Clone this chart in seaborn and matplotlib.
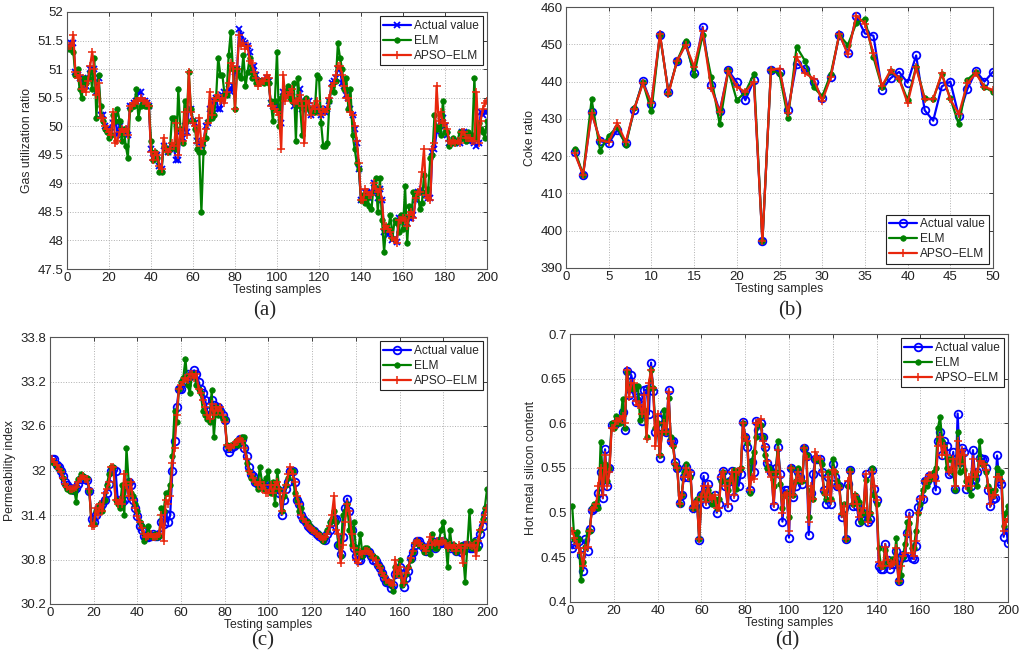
import numpy as np
import pandas as pd
import matplotlib
matplotlib.use("Agg")
import matplotlib.pyplot as plt
import seaborn as sns
from matplotlib.ticker import FuncFormatter

# ---------------- (a) gas utilization ratio ----------------
gas_actual = [
    51.40, 51.45, 51.45, 50.95, 50.90, 50.85, 50.70, 50.75, 50.70, 50.85,
    51.00, 50.95, 51.00, 50.60, 50.85, 50.20, 50.20, 50.00, 49.95, 49.95,
    49.90, 50.05, 50.15, 49.85, 50.00, 49.90, 49.95, 49.90, 49.85, 50.35,
    50.35, 50.40, 50.45, 50.60, 50.60, 50.45, 50.45, 50.40, 50.35, 49.60,
    49.45, 49.50, 49.50, 49.30, 49.25, 49.65, 49.60, 49.55, 49.60, 49.65,
    49.60, 49.40, 49.40, 49.90, 49.80, 50.00, 49.90, 50.30, 50.30, 50.10,
    50.05, 49.75, 49.70, 49.65, 49.70, 50.00, 50.05, 50.30, 50.40, 50.45,
    50.50, 50.30, 50.30, 50.55, 50.60, 50.55, 50.65, 50.60, 50.70, 50.95,
    51.00, 51.70, 51.60, 51.50, 51.45, 51.40, 51.30, 50.95, 51.05, 50.90,
    50.75, 50.80, 50.80, 50.80, 50.85, 50.80, 50.40, 50.35, 50.35, 50.40,
    50.30, 50.05, 50.60, 50.60, 50.55, 50.55, 50.60, 50.35, 50.45, 50.45,
    50.65, 50.30, 50.35, 50.45, 50.45, 50.20, 50.30, 50.30, 50.25, 50.30,
    50.20, 50.25, 50.25, 50.30, 50.45, 50.75, 50.80, 50.85, 51.00, 51.00,
    50.75, 50.70, 50.55, 50.50, 50.30, 50.20, 49.95, 49.70, 49.25, 48.70,
    48.70, 48.85, 48.85, 48.75, 48.85, 49.00, 48.85, 48.75, 48.90, 48.70,
    48.15, 48.20, 48.10, 48.15, 48.00, 48.05, 47.98, 48.40, 48.40, 48.35,
    48.35, 48.30, 48.40, 48.40, 48.45, 48.70, 48.85, 48.85, 48.90, 48.85,
    48.80, 48.75, 48.75, 49.55, 49.60, 49.90, 49.95, 50.10, 50.15, 50.00,
    49.85, 49.70, 49.70, 49.70, 49.70, 49.75, 49.70, 49.90, 49.90, 49.85,
    49.75, 49.75, 49.80, 49.70, 49.65, 49.70, 50.25, 50.20, 50.25, 50.25,
]
gas_elm = [
    51.35, 51.35, 51.30, 50.90, 51.00, 50.65, 50.50, 50.85, 50.75, 50.85,
    50.95, 50.65, 51.20, 50.15, 50.90, 50.35, 50.10, 49.95, 49.90, 49.80,
    49.85, 50.20, 50.10, 50.30, 50.10, 49.75, 49.95, 49.65, 49.45, 50.30,
    50.35, 50.35, 50.65, 50.15, 50.35, 50.40, 50.35, 50.35, 50.35, 49.75,
    49.40, 49.55, 49.45, 49.20, 49.20, 49.65, 49.60, 49.55, 49.60, 50.15,
    50.15, 49.60, 50.65, 49.95, 49.70, 50.45, 50.10, 50.95, 50.30, 50.10,
    49.95, 49.60, 49.55, 48.50, 49.55, 49.80, 50.10, 50.30, 50.15, 50.20,
    50.50, 51.20, 50.90, 50.90, 50.55, 50.55, 51.25, 51.65, 51.00, 50.30,
    51.00, 50.90, 50.85, 51.25, 50.70, 50.95, 51.20, 50.85, 50.90, 50.75,
    50.75, 50.80, 50.80, 50.75, 50.85, 50.75, 50.45, 50.10, 50.45, 51.30,
    50.00, 50.50, 50.55, 50.60, 50.70, 50.50, 50.45, 50.75, 49.75, 50.85,
    50.35, 49.85, 50.45, 50.50, 50.30, 50.25, 50.30, 50.25, 50.90, 50.85,
    50.05, 49.65, 49.65, 49.70, 50.45, 50.70, 50.60, 50.80, 51.45, 51.20,
    51.00, 50.65, 50.85, 50.30, 50.65, 49.85, 49.60, 49.35, 49.25, 48.70,
    48.80, 48.65, 48.75, 48.60, 48.55, 48.95, 49.10, 48.50, 49.10, 48.35,
    47.80, 48.25, 48.20, 48.45, 48.05, 48.35, 48.30, 48.15, 48.45, 48.20,
    48.95, 47.95, 48.60, 48.45, 48.85, 48.80, 48.85, 48.55, 48.65, 49.15,
    48.85, 48.90, 49.45, 49.50, 50.20, 49.95, 50.00, 49.85, 50.45, 49.90,
    49.90, 49.65, 49.70, 49.80, 49.70, 49.75, 49.90, 49.80, 49.85, 49.75,
    49.90, 49.80, 49.85, 50.85, 49.80, 50.05, 49.95, 49.90, 49.80, 50.10,
]
gas_apso = [
    51.40, 51.40, 51.60, 50.95, 50.85, 50.90, 50.65, 50.65, 50.60, 50.80,
    51.05, 51.30, 51.00, 50.55, 50.75, 50.15, 50.15, 50.00, 49.95, 49.90,
    49.85, 50.25, 49.70, 49.75, 49.90, 49.95, 49.90, 49.95, 49.85, 50.35,
    50.35, 50.40, 50.45, 50.45, 50.50, 50.45, 50.45, 50.40, 50.35, 49.55,
    49.40, 49.55, 49.50, 49.30, 49.25, 49.80, 49.60, 49.55, 49.60, 49.70,
    49.65, 50.05, 49.50, 49.95, 49.75, 50.25, 49.85, 50.95, 50.25, 50.05,
    50.00, 49.70, 50.15, 49.65, 49.75, 49.95, 50.05, 50.60, 50.20, 50.45,
    50.50, 50.55, 50.45, 50.50, 50.40, 50.60, 50.75, 51.10, 51.05, 50.30,
    51.00, 51.60, 51.40, 51.45, 51.35, 51.40, 51.15, 51.10, 50.95, 50.85,
    50.70, 50.75, 50.80, 50.80, 50.90, 50.85, 50.35, 50.35, 50.30, 50.25,
    50.20, 49.60, 50.90, 50.45, 50.55, 50.60, 50.65, 50.40, 50.45, 50.45,
    50.55, 50.35, 49.70, 50.45, 50.40, 50.20, 50.35, 50.30, 50.45, 50.30,
    50.20, 50.30, 50.25, 50.30, 50.50, 50.70, 50.75, 50.90, 51.05, 51.05,
    50.90, 50.70, 50.50, 50.50, 50.25, 50.20, 50.00, 49.75, 49.35, 48.70,
    48.70, 48.90, 48.85, 48.80, 48.80, 49.00, 48.90, 48.85, 48.90, 48.70,
    48.20, 48.25, 48.20, 48.15, 48.05, 48.00, 47.95, 48.35, 48.35, 48.40,
    48.35, 48.25, 48.45, 48.50, 48.40, 48.75, 48.85, 48.85, 49.20, 49.60,
    48.80, 48.75, 48.70, 49.60, 49.70, 50.70, 50.10, 50.25, 50.05, 50.05,
    49.95, 49.75, 49.70, 49.75, 49.70, 49.75, 49.70, 49.90, 49.90, 49.80,
    49.80, 49.80, 49.75, 49.75, 50.60, 49.70, 50.10, 50.30, 50.40, 50.45,
]

# ---------------- (b) coke ratio ----------------
coke_actual = [
    421.2, 415.0, 431.8, 424.0, 423.5, 427.0, 423.5, 432.5, 440.2, 434.0,
    452.5, 437.2, 445.5, 450.0, 442.3, 454.7, 439.0, 432.0, 443.0, 439.8,
    435.0, 440.3, 397.2, 443.2, 442.7, 432.5, 444.8, 443.5, 440.0, 435.5,
    441.3, 452.6, 447.7, 457.6, 452.9, 452.3, 437.8, 440.9, 442.6, 439.7,
    447.0, 432.3, 429.5, 438.7, 440.0, 430.7, 438.0, 442.8, 440.0, 442.6,
]
coke_elm = [
    421.8, 415.0, 435.2, 421.5, 425.5, 427.8, 423.0, 432.8, 439.8, 432.0,
    452.5, 437.0, 445.5, 450.8, 441.7, 452.5, 441.3, 428.5, 443.0, 435.0,
    437.2, 442.0, 397.2, 443.2, 442.0, 430.2, 449.3, 445.5, 438.5, 436.0,
    442.0, 452.5, 449.8, 455.7, 456.9, 446.5, 438.5, 442.8, 440.8, 435.1,
    444.0, 435.5, 435.3, 442.0, 435.5, 428.5, 440.5, 442.5, 438.5, 437.2,
]
coke_apso = [
    420.8, 415.0, 431.5, 424.2, 423.8, 428.8, 423.8, 432.7, 439.5, 434.3,
    452.8, 436.8, 445.5, 449.8, 444.0, 453.5, 438.3, 431.8, 442.8, 438.6,
    437.2, 440.0, 397.2, 443.2, 443.5, 431.5, 446.6, 442.2, 440.8, 434.8,
    441.2, 452.8, 447.3, 457.7, 455.5, 447.6, 438.8, 443.0, 440.8, 434.2,
    443.8, 435.2, 435.3, 442.2, 435.2, 431.3, 439.5, 442.2, 438.5, 437.8,
]

# ---------------- (c) permeability index ----------------
perm_actual = [
    32.15, 32.15, 32.08, 32.05, 32.00, 31.93, 31.85, 31.80, 31.76, 31.75,
    31.74, 31.76, 31.82, 31.88, 31.90, 31.88, 31.87, 31.72, 31.35, 31.30,
    31.40, 31.48, 31.50, 31.55, 31.60, 31.70, 31.82, 32.00, 32.02, 32.00,
    31.60, 31.60, 31.58, 31.60, 31.80, 31.85, 31.80, 31.60, 31.50, 31.38,
    31.25, 31.20, 31.12, 31.10, 31.10, 31.12, 31.15, 31.12, 31.12, 31.15,
    31.30, 31.28, 31.42, 31.30, 31.40, 32.00, 32.40, 32.85, 33.10, 33.10,
    33.20, 33.22, 33.30, 33.28, 33.30, 33.35, 33.30, 33.20, 33.10, 33.05,
    32.95, 32.80, 32.75, 32.95, 32.88, 32.82, 32.85, 32.80, 32.75, 32.68,
    32.30, 32.25, 32.30, 32.33, 32.36, 32.38, 32.42, 32.42, 32.30, 32.20,
    32.05, 31.95, 31.92, 31.85, 31.82, 31.80, 31.82, 31.78, 31.80, 31.78,
    31.75, 31.80, 31.75, 31.75, 31.70, 31.40, 31.60, 31.75, 31.85, 32.00,
    32.00, 31.85, 31.60, 31.55, 31.40, 31.35, 31.30, 31.25, 31.22, 31.20,
    31.18, 31.15, 31.12, 31.10, 31.08, 31.06, 31.15, 31.20, 31.30, 31.35,
    31.35, 31.00, 30.87, 31.10, 31.50, 31.62, 31.45, 31.20, 30.95, 30.85,
    30.80, 30.80, 30.88, 30.92, 30.92, 30.90, 30.85, 30.80, 30.78, 30.72,
    30.68, 30.62, 30.55, 30.50, 30.48, 30.42, 30.45, 30.60, 30.65, 30.70,
    30.60, 30.43, 30.55, 30.65, 30.82, 30.90, 31.00, 31.05, 31.05, 31.00,
    30.95, 30.92, 30.95, 31.00, 31.05, 30.95, 31.00, 31.05, 31.02, 31.05,
    31.02, 31.00, 30.95, 30.98, 30.95, 30.92, 30.95, 30.90, 30.98, 31.00,
    31.00, 30.95, 30.95, 31.00, 31.05, 31.00, 31.15, 31.25, 31.42, 31.50,
]
perm_elm = [
    32.12, 32.10, 32.05, 32.02, 32.00, 31.90, 31.80, 31.75, 31.72, 31.73,
    31.75, 31.58, 31.88, 31.95, 31.92, 31.90, 31.90, 31.72, 31.28, 31.28,
    31.45, 31.50, 31.55, 31.45, 31.60, 31.80, 31.95, 32.05, 32.05, 31.60,
    31.55, 31.50, 31.80, 31.40, 32.30, 31.85, 31.70, 31.65, 31.55, 31.45,
    31.30, 31.25, 31.05, 31.10, 31.25, 31.12, 31.10, 31.15, 31.10, 31.12,
    31.50, 31.45, 31.70, 31.70, 31.80, 32.20, 32.80, 32.65, 33.10, 33.20,
    33.25, 33.50, 33.15, 33.05, 33.30, 33.30, 33.15, 33.10, 33.05, 32.80,
    32.75, 32.70, 32.65, 33.08, 32.45, 32.85, 32.75, 32.80, 32.70, 32.70,
    32.35, 32.30, 32.35, 32.35, 32.40, 32.35, 32.42, 32.45, 32.45, 32.10,
    32.00, 31.90, 31.90, 31.85, 31.75, 32.05, 31.85, 31.75, 31.90, 32.00,
    31.70, 31.85, 31.55, 32.00, 31.75, 31.45, 31.65, 31.80, 31.90, 32.00,
    32.00, 31.70, 31.60, 31.45, 31.50, 31.35, 31.30, 31.30, 31.25, 31.20,
    31.20, 31.15, 31.15, 31.10, 31.05, 31.10, 31.20, 31.30, 31.35, 31.45,
    31.30, 31.00, 30.85, 31.40, 31.45, 31.55, 31.20, 31.00, 31.30, 30.95,
    30.90, 31.15, 30.85, 30.95, 30.95, 30.90, 30.85, 30.85, 30.82, 30.72,
    30.70, 30.62, 30.58, 30.50, 30.50, 30.45, 30.38, 30.70, 30.60, 30.80,
    30.45, 30.50, 30.60, 30.70, 30.80, 30.90, 31.02, 31.05, 31.00, 31.00,
    30.90, 30.95, 30.95, 30.88, 31.15, 30.95, 30.95, 31.05, 31.20, 31.30,
    31.05, 30.70, 31.20, 30.95, 31.00, 30.90, 30.95, 31.00, 30.90, 30.50,
    30.98, 31.45, 30.95, 31.05, 31.00, 30.95, 31.20, 31.35, 31.50, 31.75,
]
perm_apso = [
    32.15, 32.12, 32.08, 32.02, 31.98, 31.90, 31.82, 31.78, 31.75, 31.75,
    31.76, 31.78, 31.85, 31.90, 31.92, 31.88, 31.88, 31.75, 31.25, 31.25,
    31.50, 31.40, 31.55, 31.45, 31.70, 31.75, 31.85, 32.05, 32.05, 31.60,
    31.55, 31.60, 31.55, 31.95, 31.80, 31.65, 31.85, 31.60, 31.50, 31.38,
    31.30, 31.22, 31.15, 31.10, 31.12, 31.15, 31.10, 31.10, 31.12, 31.15,
    31.40, 31.05, 31.60, 31.55, 31.65, 32.10, 32.30, 32.75, 33.10, 33.15,
    33.20, 33.25, 33.22, 33.30, 33.30, 33.25, 33.30, 33.10, 33.05, 32.95,
    32.85, 32.75, 32.70, 32.90, 32.75, 32.85, 32.80, 32.85, 32.75, 32.65,
    32.35, 32.30, 32.32, 32.35, 32.38, 32.40, 32.42, 32.40, 32.30, 32.15,
    32.00, 31.95, 31.90, 31.85, 31.80, 31.85, 31.75, 31.80, 31.70, 31.70,
    31.80, 31.70, 31.80, 31.85, 31.75, 31.45, 31.70, 31.80, 31.95, 32.05,
    31.95, 31.85, 31.65, 31.55, 31.40, 31.35, 31.30, 31.25, 31.22, 31.20,
    31.18, 31.15, 31.12, 31.10, 31.08, 31.10, 31.15, 31.25, 31.40, 31.65,
    31.20, 31.15, 30.75, 31.00, 31.30, 31.55, 31.45, 31.15, 30.95, 30.80,
    30.75, 30.90, 30.88, 30.92, 30.92, 30.90, 30.88, 30.82, 30.80, 30.72,
    30.68, 30.62, 30.58, 30.52, 30.50, 30.48, 30.45, 30.80, 30.60, 30.70,
    30.55, 30.48, 30.62, 30.68, 30.82, 30.92, 31.02, 31.05, 31.02, 30.98,
    30.95, 30.92, 31.00, 31.10, 31.00, 31.02, 31.05, 31.00, 31.05, 31.05,
    31.02, 30.95, 31.00, 30.95, 31.00, 30.92, 31.00, 30.95, 30.75, 31.00,
    31.00, 31.00, 30.98, 31.00, 30.85, 31.05, 31.20, 31.30, 31.40, 31.50,
]

# ---------------- (d) hot metal silicon content ----------------
si_actual = [
    0.460, 0.465, 0.470, 0.468, 0.453, 0.435, 0.470, 0.457, 0.482, 0.503,
    0.505, 0.507, 0.522, 0.545, 0.516, 0.571, 0.530, 0.550, 0.598, 0.598,
    0.600, 0.603, 0.605, 0.613, 0.593, 0.659, 0.632, 0.654, 0.640, 0.624,
    0.630, 0.628, 0.603, 0.637, 0.638, 0.610, 0.668, 0.636, 0.590, 0.605,
    0.561, 0.595, 0.612, 0.590, 0.637, 0.580, 0.580, 0.557, 0.550, 0.511,
    0.520, 0.540, 0.551, 0.540, 0.544, 0.505, 0.507, 0.512, 0.469, 0.520,
    0.541, 0.510, 0.532, 0.515, 0.512, 0.520, 0.500, 0.510, 0.540, 0.547,
    0.530, 0.506, 0.535, 0.547, 0.518, 0.545, 0.530, 0.543, 0.602, 0.585,
    0.573, 0.525, 0.557, 0.545, 0.603, 0.593, 0.600, 0.585, 0.573, 0.556,
    0.550, 0.545, 0.507, 0.550, 0.573, 0.543, 0.490, 0.525, 0.525, 0.472,
    0.550, 0.517, 0.530, 0.545, 0.540, 0.532, 0.572, 0.563, 0.475, 0.522,
    0.543, 0.560, 0.560, 0.560, 0.545, 0.525, 0.510, 0.540, 0.510, 0.555,
    0.540, 0.530, 0.530, 0.495, 0.505, 0.470, 0.532, 0.548, 0.507, 0.517,
    0.507, 0.490, 0.495, 0.500, 0.543, 0.490, 0.493, 0.548, 0.527, 0.514,
    0.440, 0.437, 0.437, 0.465, 0.447, 0.437, 0.443, 0.443, 0.457, 0.423,
    0.449, 0.453, 0.450, 0.477, 0.500, 0.449, 0.448, 0.463, 0.506, 0.515,
    0.515, 0.535, 0.535, 0.541, 0.540, 0.540, 0.525, 0.580, 0.590, 0.565,
    0.580, 0.575, 0.543, 0.545, 0.568, 0.527, 0.611, 0.557, 0.572, 0.568,
    0.527, 0.535, 0.530, 0.570, 0.538, 0.546, 0.561, 0.560, 0.560, 0.550,
    0.525, 0.507, 0.515, 0.516, 0.564, 0.535, 0.532, 0.473, 0.486, 0.466,
]
si_elm = [
    0.507, 0.470, 0.478, 0.470, 0.425, 0.445, 0.462, 0.480, 0.480, 0.505,
    0.510, 0.510, 0.505, 0.579, 0.540, 0.555, 0.535, 0.550, 0.600, 0.595,
    0.608, 0.600, 0.600, 0.627, 0.595, 0.658, 0.640, 0.640, 0.638, 0.642,
    0.642, 0.604, 0.610, 0.615, 0.585, 0.640, 0.660, 0.640, 0.595, 0.600,
    0.565, 0.590, 0.615, 0.590, 0.628, 0.585, 0.575, 0.555, 0.550, 0.510,
    0.520, 0.545, 0.554, 0.545, 0.540, 0.505, 0.510, 0.515, 0.470, 0.520,
    0.520, 0.515, 0.525, 0.520, 0.510, 0.515, 0.505, 0.515, 0.535, 0.546,
    0.535, 0.525, 0.535, 0.540, 0.548, 0.527, 0.548, 0.550, 0.600, 0.585,
    0.578, 0.522, 0.558, 0.568, 0.585, 0.600, 0.598, 0.585, 0.565, 0.550,
    0.550, 0.545, 0.530, 0.545, 0.580, 0.532, 0.505, 0.520, 0.522, 0.495,
    0.550, 0.520, 0.535, 0.550, 0.535, 0.535, 0.572, 0.565, 0.495, 0.525,
    0.515, 0.560, 0.560, 0.558, 0.555, 0.522, 0.515, 0.545, 0.515, 0.560,
    0.545, 0.535, 0.530, 0.500, 0.510, 0.470, 0.530, 0.548, 0.510, 0.520,
    0.515, 0.512, 0.490, 0.500, 0.537, 0.493, 0.500, 0.550, 0.520, 0.510,
    0.460, 0.440, 0.440, 0.458, 0.445, 0.445, 0.448, 0.445, 0.472, 0.423,
    0.430, 0.450, 0.465, 0.490, 0.488, 0.460, 0.460, 0.480, 0.500, 0.510,
    0.525, 0.535, 0.530, 0.537, 0.540, 0.545, 0.550, 0.595, 0.607, 0.580,
    0.575, 0.550, 0.560, 0.560, 0.545, 0.525, 0.590, 0.545, 0.565, 0.548,
    0.535, 0.527, 0.520, 0.545, 0.540, 0.530, 0.580, 0.555, 0.555, 0.545,
    0.530, 0.525, 0.520, 0.525, 0.550, 0.545, 0.545, 0.485, 0.500, 0.507,
]
si_apso = [
    0.480, 0.472, 0.465, 0.460, 0.455, 0.440, 0.460, 0.462, 0.480, 0.503,
    0.505, 0.510, 0.530, 0.550, 0.520, 0.565, 0.530, 0.545, 0.595, 0.595,
    0.603, 0.603, 0.605, 0.608, 0.600, 0.660, 0.630, 0.645, 0.645, 0.625,
    0.620, 0.620, 0.610, 0.632, 0.583, 0.645, 0.660, 0.640, 0.575, 0.610,
    0.565, 0.590, 0.600, 0.590, 0.635, 0.580, 0.575, 0.555, 0.550, 0.510,
    0.520, 0.540, 0.550, 0.540, 0.545, 0.505, 0.510, 0.512, 0.470, 0.518,
    0.530, 0.512, 0.530, 0.518, 0.515, 0.520, 0.505, 0.505, 0.540, 0.546,
    0.530, 0.510, 0.535, 0.545, 0.520, 0.545, 0.545, 0.550, 0.600, 0.585,
    0.580, 0.525, 0.540, 0.538, 0.600, 0.600, 0.605, 0.580, 0.573, 0.558,
    0.545, 0.540, 0.510, 0.545, 0.570, 0.540, 0.500, 0.520, 0.522, 0.480,
    0.550, 0.520, 0.535, 0.545, 0.538, 0.535, 0.572, 0.560, 0.490, 0.530,
    0.515, 0.568, 0.562, 0.560, 0.545, 0.525, 0.520, 0.540, 0.513, 0.548,
    0.545, 0.530, 0.528, 0.498, 0.507, 0.470, 0.535, 0.545, 0.510, 0.520,
    0.510, 0.495, 0.500, 0.505, 0.543, 0.490, 0.500, 0.545, 0.530, 0.514,
    0.445, 0.440, 0.440, 0.462, 0.447, 0.440, 0.443, 0.445, 0.460, 0.423,
    0.440, 0.452, 0.455, 0.475, 0.495, 0.455, 0.452, 0.468, 0.500, 0.515,
    0.518, 0.535, 0.535, 0.542, 0.542, 0.540, 0.535, 0.575, 0.585, 0.565,
    0.575, 0.565, 0.545, 0.548, 0.560, 0.530, 0.580, 0.555, 0.570, 0.565,
    0.530, 0.540, 0.530, 0.560, 0.540, 0.545, 0.558, 0.555, 0.555, 0.548,
    0.528, 0.510, 0.520, 0.520, 0.540, 0.540, 0.535, 0.480, 0.490, 0.493,
]

series_names = ["Actual value", "ELM", "APSO\u2212ELM"]
panel_tags = ["(a)", "(b)", "(c)", "(d)"]
y_titles = ["Gas utilization ratio", "Coke ratio", "Permeability index",
            "Hot metal silicon content"]

sns.set_theme(style="white")
plt.rcParams["font.family"] = ["Liberation Sans", "DejaVu Sans"]

fig = plt.figure(figsize=(10.2, 6.58), dpi=100)

W, H = 1020.0, 658.0


def box(left, top, right, bottom):
    return [left / W, 1 - bottom / H, (right - left) / W, (bottom - top) / H]


panels = [
    dict(rect=box(67, 12, 487, 269), data=(gas_actual, gas_elm, gas_apso),
         xlim=(0, 200), xticks=np.arange(0, 201, 20),
         ylim=(47.5, 52), yticks=np.arange(47.5, 52.01, 0.5),
         actual_marker="x", legend_loc="upper right", tag_xy=(265, 311)),
    dict(rect=box(566, 7, 993, 268), data=(coke_actual, coke_elm, coke_apso),
         xlim=(0, 50), xticks=np.arange(0, 51, 5),
         ylim=(390, 460), yticks=np.arange(390, 461, 10),
         actual_marker="o", legend_loc="lower right", tag_xy=(790, 311)),
    dict(rect=box(50, 337, 487, 604), data=(perm_actual, perm_elm, perm_apso),
         xlim=(0, 200), xticks=np.arange(0, 201, 20),
         ylim=(30.2, 33.8), yticks=np.arange(30.2, 33.81, 0.6),
         actual_marker="o", legend_loc="upper right", tag_xy=(263, 641)),
    dict(rect=box(570, 334, 1008, 602), data=(si_actual, si_elm, si_apso),
         xlim=(0, 200), xticks=np.arange(0, 201, 20),
         ylim=(0.4, 0.7), yticks=np.arange(0.4, 0.701, 0.05),
         actual_marker="o", legend_loc="upper right", tag_xy=(787, 641)),
]

fmt = FuncFormatter(lambda v, _: f"{round(v, 4):g}")

for p, ytitle, tag in zip(panels, y_titles, panel_tags):
    ax = fig.add_axes(p["rect"])
    actual, elm, apso = p["data"]
    samples = np.arange(1, len(actual) + 1)
    df = pd.DataFrame({"sample": samples, "actual": actual,
                       "elm": elm, "apso": apso})

    if p["actual_marker"] == "x":
        sns.lineplot(data=df, x="sample", y="actual", ax=ax, color="#0000ff",
                     lw=1.6, marker="x", markersize=5, mew=1.3,
                     markeredgecolor="#0000ff", sort=False, estimator=None,
                     label=series_names[0])
    else:
        sns.lineplot(data=df, x="sample", y="actual", ax=ax, color="#0000ff",
                     lw=1.6, marker="o", markersize=5.5, mew=1.3,
                     markerfacecolor="none", markeredgecolor="#0000ff",
                     sort=False, estimator=None, label=series_names[0])
    sns.lineplot(data=df, x="sample", y="elm", ax=ax, color="#008000",
                 lw=1.6, marker="o", markersize=4, mew=0.5,
                 markeredgecolor="#008000", sort=False, estimator=None,
                 label=series_names[1])
    sns.lineplot(data=df, x="sample", y="apso", ax=ax, color="#e8260c",
                 lw=1.6, marker="+", markersize=6, mew=1.1,
                 markeredgecolor="#e8260c", sort=False, estimator=None,
                 label=series_names[2])

    ax.set_xlim(*p["xlim"])
    ax.set_ylim(*p["ylim"])
    ax.set_xticks(p["xticks"])
    ax.set_yticks(p["yticks"])
    ax.yaxis.set_major_formatter(fmt)
    ax.set_xlabel("Testing samples", fontsize=8.8, labelpad=0)
    ax.set_ylabel(ytitle, fontsize=8.8, labelpad=3)
    ax.tick_params(direction="in", length=3, width=0.6, labelsize=9.5,
                   top=True, right=True, pad=2.5, colors="#222222")
    ax.grid(True, linestyle=":", linewidth=0.7, color="#b0b0b0")
    for s in ax.spines.values():
        s.set_color("#555555")
        s.set_linewidth(0.8)
    ax.set_facecolor("white")

    leg = ax.legend(loc=p["legend_loc"], fontsize=8.6, frameon=True,
                    fancybox=False, edgecolor="#222222", framealpha=1,
                    borderpad=0.3, handlelength=2.3, handletextpad=0.3,
                    labelspacing=0.25, borderaxespad=0.35, numpoints=1)
    leg.get_frame().set_linewidth(0.8)

    fig.text(p["tag_xy"][0] / W, 1 - p["tag_xy"][1] / H, tag,
             fontsize=15, family="Liberation Serif", ha="center", va="center")

fig.savefig("out.png", dpi=100, facecolor="white")
